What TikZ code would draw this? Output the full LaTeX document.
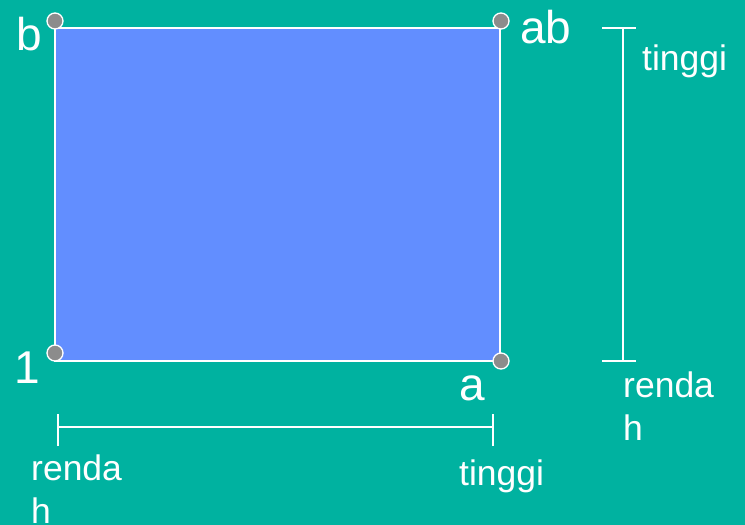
\documentclass[tikz,border=0pt]{standalone}
\usepackage{fontspec}
\setmainfont{Liberation Sans}
\usepackage{xcolor}
\definecolor{tealbg}{RGB}{0,178,160}
\definecolor{boxblue}{RGB}{98,142,255}
\definecolor{dotgray}{RGB}{140,140,140}

\tikzset{
  corner/.style={circle,fill=dotgray,draw=white,line width=1.3pt,minimum size=16pt,inner sep=0pt},
  biglabel/.style={white,inner sep=0pt,font=\fontsize{46}{50}\selectfont},
  smalllabel/.style={white,inner sep=0pt,align=left,font=\fontsize{35.5}{43}\selectfont},
  measure/.style={white,line width=1.5pt}
}

\begin{document}
\begin{tikzpicture}[x=1pt,y=-1pt]
  % background
  \fill[tealbg] (0,0) rectangle (745,525);
  \useasboundingbox (0,0) rectangle (745,525);
  % the square
  \coordinate (sw) at (55,361);
  \coordinate (ne) at (500,28);
  \filldraw[fill=boxblue,draw=white,line width=1.5pt] (sw) rectangle (ne);
  % corner dots
  \node[corner] (p1) at (55,353) {};
  \node[corner] (pa) at (501,361) {};
  \node[corner] (pb) at (55,21) {};
  \node[corner] (pab) at (501,21) {};
  % corner labels
  \node[biglabel,anchor=base west] (l1) at (14,383) {1};
  \node[biglabel,anchor=base west] (la) at (459,400) {a};
  \node[biglabel,anchor=base west] (lb) at (16,50) {b};
  \node[biglabel,anchor=base west] (lab) at (520,43) {ab};
  % vertical scale
  \coordinate (vtop) at (623,28);
  \coordinate (vbot) at (623,361);
  \draw[measure] (vtop) -- (vbot);
  \draw[measure] ([xshift=-21pt]vtop) -- ([xshift=13pt]vtop);
  \draw[measure] ([xshift=-21pt]vbot) -- ([xshift=13pt]vbot);
  \node[smalllabel,anchor=base west] (vhigh) at (642,70) {tinggi};
  \node[smalllabel,anchor=north west] (vlow) at (623,371.5) {renda\\h};
  % horizontal scale
  \coordinate (hleft) at (58,427);
  \coordinate (hright) at (493,427);
  \draw[measure] (hleft) -- (hright);
  \draw[measure] ([yshift=-19pt]hleft) -- ([yshift=13pt]hleft);
  \draw[measure] ([yshift=-19pt]hright) -- ([yshift=13pt]hright);
  \node[smalllabel,anchor=north west] (hlow) at (31,454.5) {renda\\h};
  \node[smalllabel,anchor=base west] (hhigh) at (459,485) {tinggi};
\end{tikzpicture}
\end{document}
